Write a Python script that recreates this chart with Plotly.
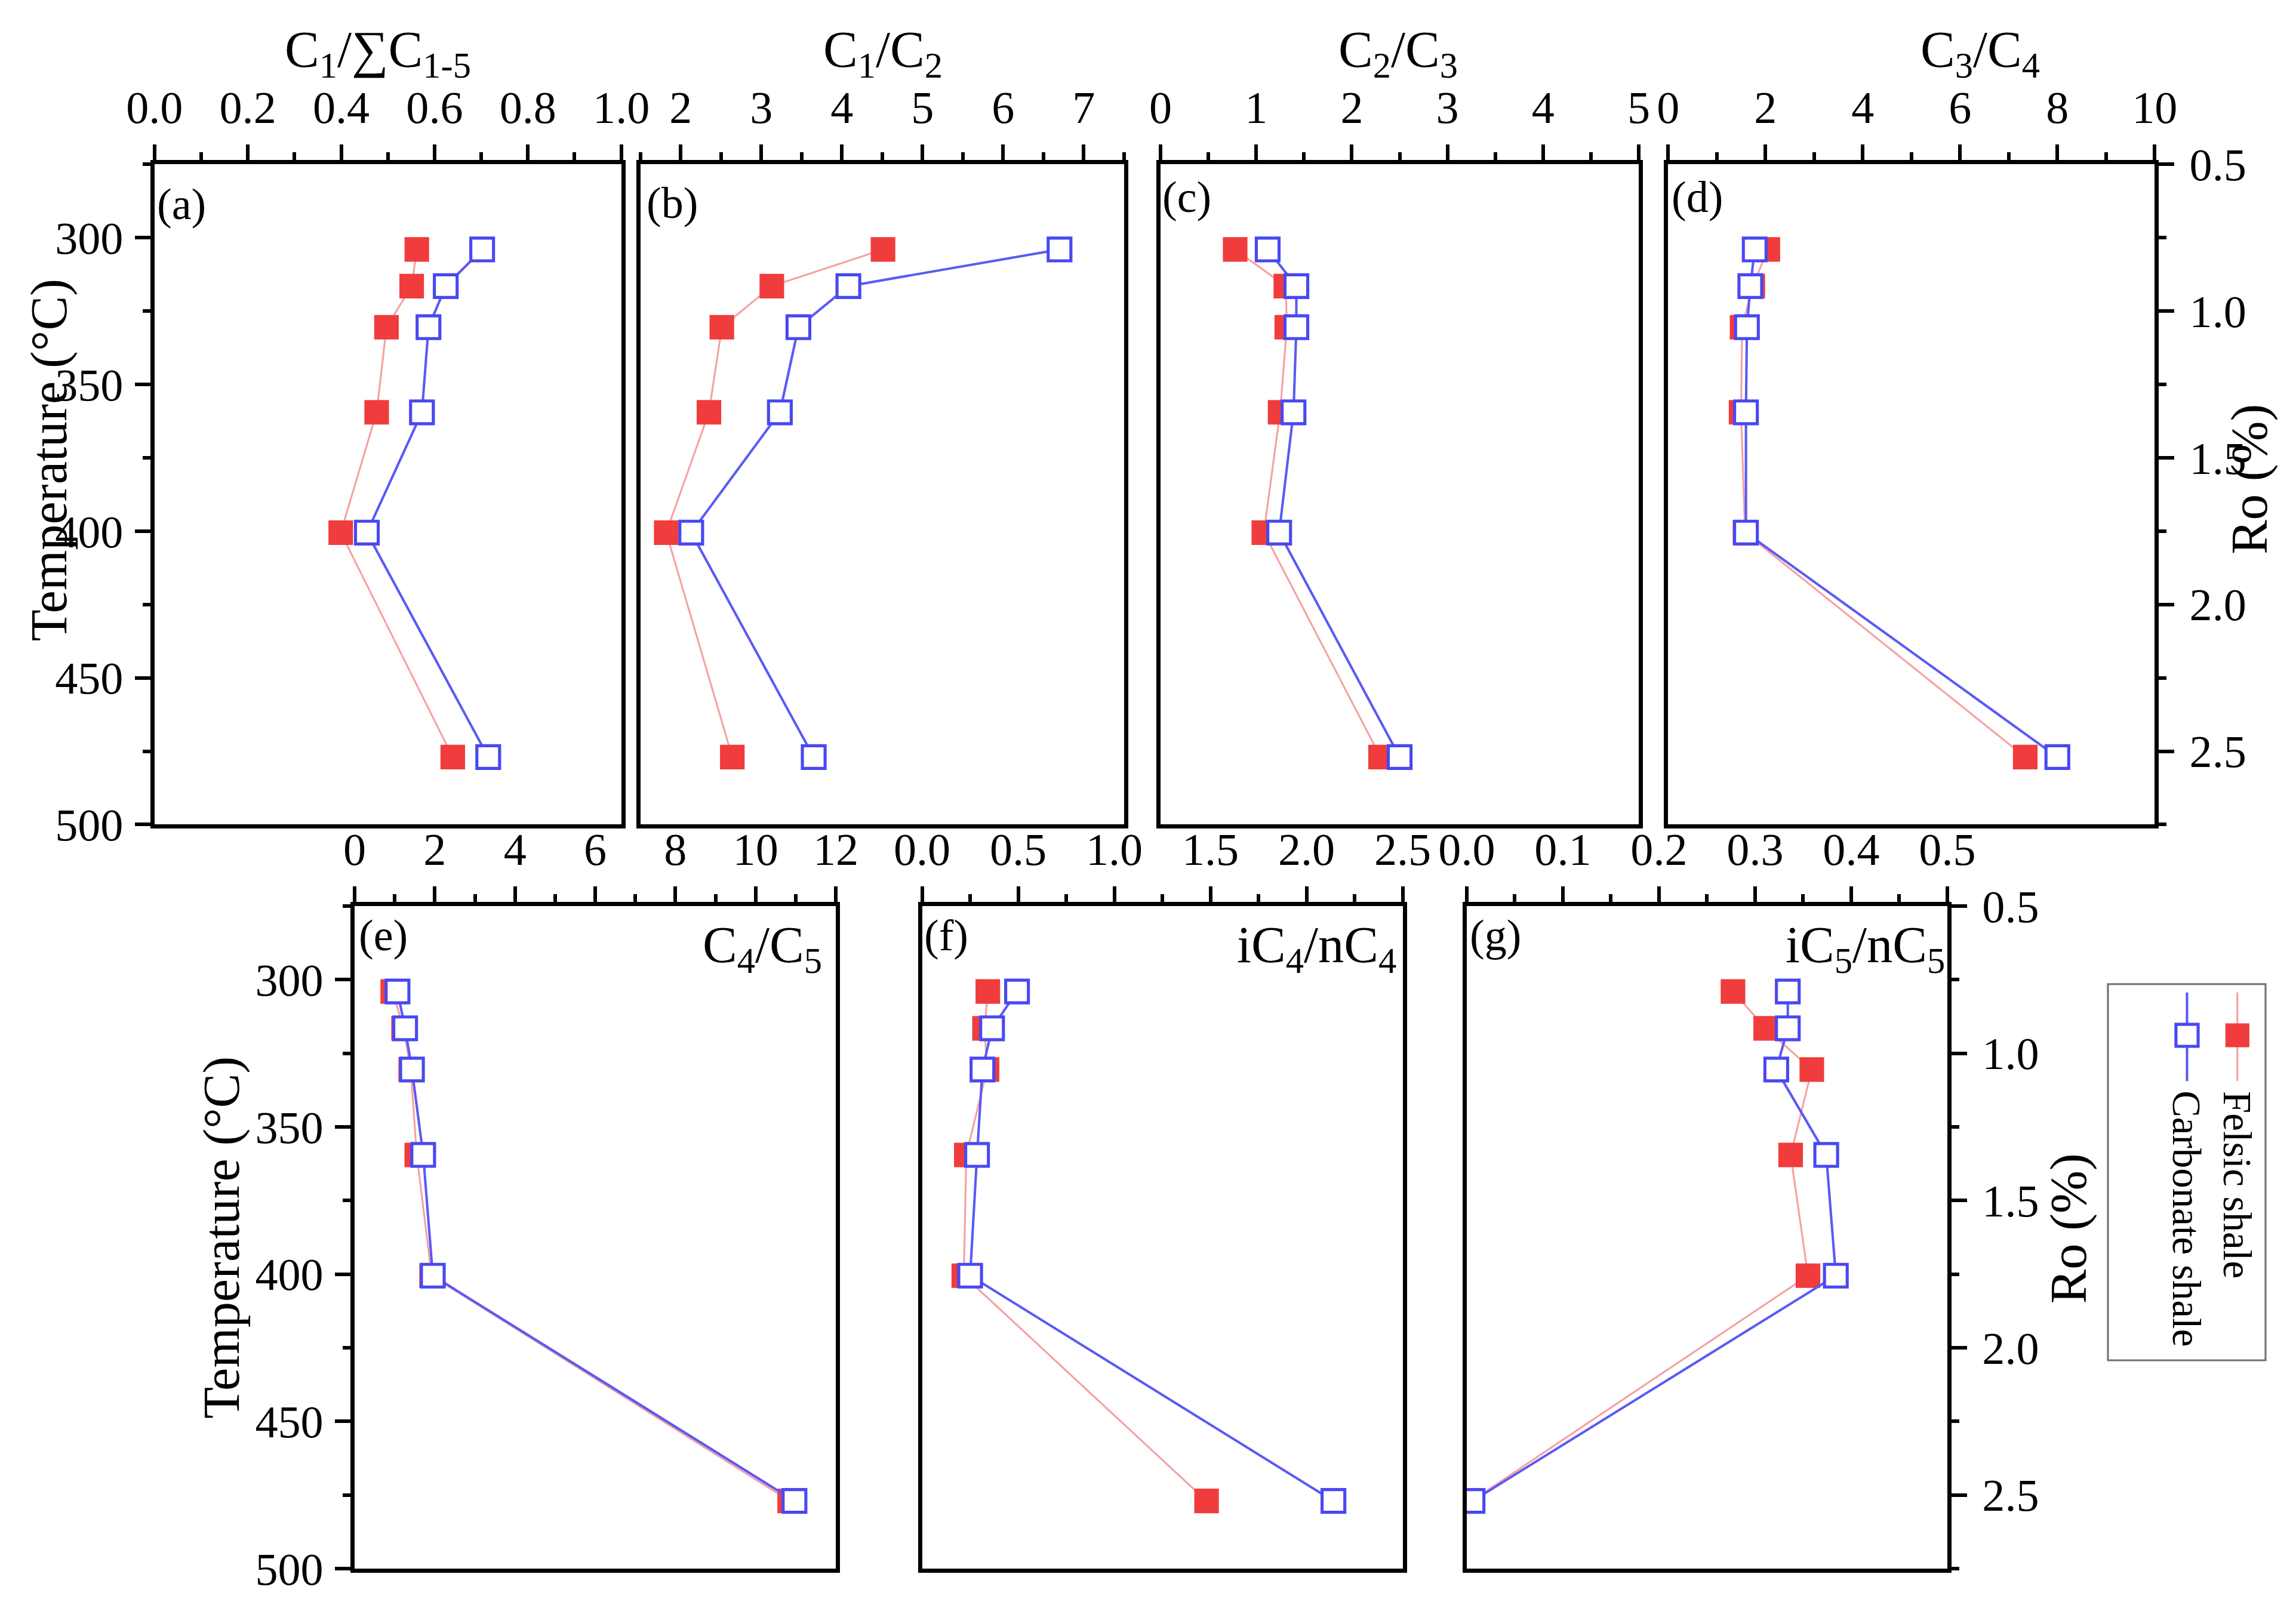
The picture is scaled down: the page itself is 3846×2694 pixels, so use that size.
import plotly.graph_objects as go

# ---------------- data ----------------
temperature = [304, 316.5, 330.5, 359.5, 400.5, 477]

c1_sum_felsic = [0.562, 0.551, 0.497, 0.476, 0.399, 0.639]
c1_sum_carb = [0.702, 0.624, 0.587, 0.573, 0.455, 0.715]

c1_c2_felsic = [4.51, 3.13, 2.51, 2.35, 1.82, 2.64]
c1_c2_carb = [6.70, 4.08, 3.46, 3.23, 2.13, 3.65]

c2_c3_felsic = [0.78, 1.31, 1.32, 1.25, 1.08, 2.30]
c2_c3_carb = [1.12, 1.42, 1.42, 1.39, 1.24, 2.50]

c3_c4_felsic = [2.05, 1.74, 1.52, 1.50, 1.58, 7.34]
c3_c4_carb = [1.78, 1.69, 1.62, 1.60, 1.60, 8.00]

c4_c5_felsic = [0.95, 1.22, 1.40, 1.55, 1.92, 10.85]
c4_c5_carb = [1.07, 1.26, 1.43, 1.71, 1.95, 10.97]

ic4_nc4_felsic = [0.342, 0.325, 0.338, 0.230, 0.217, 1.48]
ic4_nc4_carb = [0.494, 0.364, 0.314, 0.286, 0.250, 2.14]

ic5_nc5_felsic = [0.277, 0.311, 0.359, 0.337, 0.355, 0.005]
ic5_nc5_carb = [0.334, 0.334, 0.322, 0.374, 0.384, 0.006]

panel_letters = ["(a)", "(b)", "(c)", "(d)", "(e)", "(f)", "(g)"]
panel_titles = ["C<sub>1</sub>/∑C<sub>1-5</sub>", "C<sub>1</sub>/C<sub>2</sub>",
                "C<sub>2</sub>/C<sub>3</sub>", "C<sub>3</sub>/C<sub>4</sub>",
                "C<sub>4</sub>/C<sub>5</sub>", "iC<sub>4</sub>/nC<sub>4</sub>",
                "iC<sub>5</sub>/nC<sub>5</sub>"]
series_names = ["Felsic shale", "Carbonate shale"]
temp_title = "Temperature (°C)"
ro_title = "Ro (%)"

# ---------------- layout helpers ----------------
W, H = 3846, 2694
FONT = "Liberation Serif"
# the photographed page shows the paper slightly inset/scaled; compensate
OX, OY, K = 54.0, 44.0, 0.9714
S = 1.0 / K
def fx(px):
    return (px - OX) / K / W
def fy(py):
    return 1 - (py - OY) / K / H
def sz(v):
    return v * S

RED = "#F03C3C"
RED_LINE = "#F7A0A0"
BLUE = "#4848F2"
BLUE_LINE = "#5A5AF5"

TOP = (271, 1380)
BOT = (1517, 2630)
boxes = [
    (256, 1035) + TOP,
    (1067, 1874) + TOP,
    (1935, 2733) + TOP,
    (2782, 3594) + TOP,
    (590, 1393) + BOT,
    (1537, 2339) + BOT,
    (2446, 3248) + BOT,
]
xranges = [[0, 1], [1.5, 7.5], [0, 5], [0, 10], [0, 12], [0, 2.5], [0, 0.5]]
xdticks = [0.2, 1, 1, 2, 2, 0.5, 0.1]
xfmts = [".1f", "d", "d", "d", "d", ".1f", ".1f"]

felsic = [c1_sum_felsic, c1_c2_felsic, c2_c3_felsic, c3_c4_felsic,
          c4_c5_felsic, ic4_nc4_felsic, ic5_nc5_felsic]
carb = [c1_sum_carb, c1_c2_carb, c2_c3_carb, c3_c4_carb,
        c4_c5_carb, ic4_nc4_carb, ic5_nc5_carb]

fig = go.Figure()
LW = sz(7)
TW = sz(6)
TICKLEN = int(round(sz(25)))
MINLEN = int(round(sz(13)))
TICKFONT = dict(family=FONT, size=sz(74), color="black")

for i in range(7):
    n = i + 1
    xa = "x" if n == 1 else f"x{n}"
    ya = "y" if n == 1 else f"y{n}"
    fig.add_trace(go.Scatter(
        x=felsic[i], y=temperature, mode="lines+markers",
        line=dict(color=RED_LINE, width=sz(3)),
        marker=dict(symbol="square", size=sz(40), color=RED, line=dict(width=0)),
        xaxis=xa, yaxis=ya, showlegend=False, name=series_names[0]))
    fig.add_trace(go.Scatter(
        x=carb[i], y=temperature, mode="lines+markers",
        line=dict(color=BLUE_LINE, width=sz(4)),
        marker=dict(symbol="square", size=sz(37), color="white",
                    line=dict(width=sz(5), color=BLUE)),
        xaxis=xa, yaxis=ya, showlegend=False, name=series_names[1]))

    x0, x1, y0, y1 = boxes[i]
    xkey = "xaxis" if n == 1 else f"xaxis{n}"
    ykey = "yaxis" if n == 1 else f"yaxis{n}"
    fig.update_layout(**{
        xkey: dict(domain=[fx(x0), fx(x1)], anchor=ya, side="top",
                   range=xranges[i], dtick=xdticks[i], tick0=0,
                   tickformat=xfmts[i], showgrid=False, zeroline=False,
                   showline=True, linecolor="black", linewidth=LW, mirror=True,
                   ticks="outside", ticklen=TICKLEN, tickwidth=TW, tickcolor="black",
                   ticklabelstandoff=6,
                   minor=dict(dtick=xdticks[i] / 2, ticks="outside", ticklen=MINLEN,
                              tickwidth=TW, tickcolor="black", showgrid=False),
                   tickfont=TICKFONT),
        ykey: dict(domain=[fy(y1), fy(y0)], anchor=xa, range=[500, 275],
                   showgrid=False, zeroline=False, showline=True,
                   linecolor="black", linewidth=LW, mirror=True,
                   dtick=50, tick0=0,
                   ticks="outside" if i in (0, 4) else "",
                   showticklabels=i in (0, 4),
                   ticklen=TICKLEN, tickwidth=TW, tickcolor="black",
                   ticklabelstandoff=4,
                   minor=dict(dtick=25, ticks="outside" if i in (0, 4) else "",
                              ticklen=MINLEN, tickwidth=TW, tickcolor="black",
                              showgrid=False),
                   tickfont=TICKFONT),
    })

ro_range = [2.75, 0.5]
for n_ro, host in ((8, 4), (9, 7)):
    fig.add_trace(go.Scatter(x=[None], y=[None], xaxis=f"x{host}", yaxis=f"y{n_ro}",
                             showlegend=False, hoverinfo="skip"))
    fig.update_layout(**{
        f"yaxis{n_ro}": dict(overlaying=f"y{host}", anchor=f"x{host}", side="right",
                            range=ro_range, dtick=0.5, tick0=0, tickformat=".1f",
                            showgrid=False, zeroline=False, showline=True,
                            linecolor="black", linewidth=LW,
                            ticks="outside", ticklen=TICKLEN, tickwidth=TW,
                            tickcolor="black", ticklabelstandoff=10,
                            minor=dict(dtick=0.25, ticks="outside", ticklen=MINLEN,
                                       tickwidth=TW, tickcolor="black", showgrid=False),
                            tickfont=TICKFONT)
    })

annotations = []
TITLEFONT = dict(family=FONT, size=sz(84), color="black")
top_title_x = [629, 1472, 2331, 3303]
for i in range(4):
    annotations.append(dict(text=panel_titles[i], x=fx(top_title_x[i]), y=fy(84),
                            xref="paper", yref="paper", showarrow=False,
                            xanchor="center", yanchor="middle", font=TITLEFONT))
bot_title_right = [1372, 2330, 3246]
for k, i in enumerate((4, 5, 6)):
    annotations.append(dict(text=panel_titles[i], x=fx(bot_title_right[k]), y=fy(1532),
                            xref="paper", yref="paper", showarrow=False,
                            xanchor="right", yanchor="top", font=TITLEFONT))
letter_pos = [(258, 338), (1075, 336), (1936, 326), (2786, 326),
              (595, 1566), (1538, 1566), (2449, 1566)]
for i in range(7):
    lx, ly = letter_pos[i]
    annotations.append(dict(text=panel_letters[i], x=fx(lx), y=fy(ly),
                            xref="paper", yref="paper", showarrow=False,
                            xanchor="left", yanchor="middle",
                            font=dict(family=FONT, size=sz(72), color="black")))
for (cx, cy) in ((80, 768), (367, 2074)):
    annotations.append(dict(text=temp_title, x=fx(cx), y=fy(cy), xref="paper", yref="paper",
                            showarrow=False, textangle=-90, xanchor="center",
                            yanchor="middle", font=TITLEFONT))
for (cx, cy) in ((3752, 800), (3450, 2059)):
    annotations.append(dict(text=ro_title, x=fx(cx), y=fy(cy), xref="paper", yref="paper",
                            showarrow=False, textangle=-90, xanchor="center",
                            yanchor="middle", font=TITLEFONT))

LEG = (3516, 3779, 1648, 2280)
shapes = [dict(type="rect", xref="paper", yref="paper", x0=fx(LEG[0]), x1=fx(LEG[1]),
               y0=fy(LEG[3]), y1=fy(LEG[2]), line=dict(color="#707070", width=sz(3)),
               fillcolor="rgba(0,0,0,0)")]
leg_cols = [(3732, RED_LINE, 3, RED, RED, 0, 40), (3648, BLUE_LINE, 4, "white", BLUE, 5, 37)]
for (cx, lc, lw, fc, mc, mlw, ms) in leg_cols:
    shapes.append(dict(type="line", xref="paper", yref="paper", x0=fx(cx), x1=fx(cx),
                       y0=fy(1662), y1=fy(1811), line=dict(color=lc, width=sz(lw))))
    shapes.append(dict(type="rect", xref="paper", yref="paper",
                       x0=fx(cx - ms / 2), x1=fx(cx + ms / 2),
                       y0=fy(1734 + ms / 2), y1=fy(1734 - ms / 2),
                       fillcolor=fc, line=dict(color=mc, width=sz(mlw))))
annotations.append(dict(text=series_names[0], x=fx(3732), y=fy(1985), xref="paper",
                        yref="paper", showarrow=False, textangle=90, xanchor="center",
                        yanchor="middle", font=dict(family=FONT, size=sz(65), color="black")))
annotations.append(dict(text=series_names[1], x=fx(3648), y=fy(2042), xref="paper",
                        yref="paper", showarrow=False, textangle=90, xanchor="center",
                        yanchor="middle", font=dict(family=FONT, size=sz(65), color="black")))

fig.update_layout(width=W, height=H, margin=dict(l=0, r=0, t=0, b=0),
                  paper_bgcolor="white", plot_bgcolor="white",
                  annotations=annotations, shapes=shapes,
                  font=dict(family=FONT, color="black"))

fig.write_html("out.html")
